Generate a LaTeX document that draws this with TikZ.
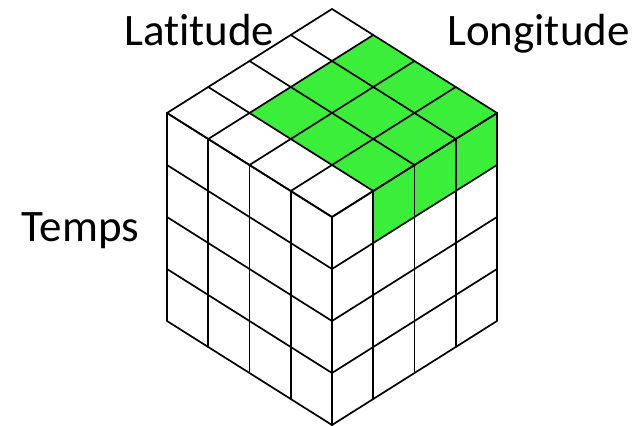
\documentclass[tikz,border=0pt]{standalone}
\usepackage{fontspec}
\setmainfont{Carlito}[Ligatures=NoCommon]
\definecolor{cellgreen}{RGB}{58,238,58}
\begin{document}
\begin{tikzpicture}[
  gridline/.style={line width=1.7pt, line join=round, line cap=round, black},
  greenfill/.style={fill=cellgreen, draw=none},
  axislabel/.style={anchor=base west, inner sep=0pt, font=\fontsize{45}{52}\selectfont}
]
\useasboundingbox (0pt,-426pt) rectangle (641pt,0pt);
\begin{scope}[shift={(332pt,-9pt)}, x={(-41.25pt,-26pt)}, y={(41.25pt,-26pt)}, z={(0pt,-52pt)}]
  % green slab: top face cells and right face top row
  \fill[greenfill] (0,1,0) -- (0,4,0) -- (3,4,0) -- (3,1,0) -- cycle;
  \fill[greenfill] (0,4,0) -- (3,4,0) -- (3,4,1) -- (0,4,1) -- cycle;
  \foreach \k in {0,...,4} {
    % top face
    \draw[gridline] (\k,0,0) -- (\k,4,0);
    \draw[gridline] (0,\k,0) -- (4,\k,0);
    % left face (i = 4)
    \draw[gridline] (4,\k,0) -- (4,\k,4);
    \draw[gridline] (4,0,\k) -- (4,4,\k);
    % right face (j = 4)
    \draw[gridline] (\k,4,0) -- (\k,4,4);
    \draw[gridline] (0,4,\k) -- (4,4,\k);
  }
\end{scope}
\node[axislabel] (lat) at (124pt,-45pt) {Latitude};
\node[axislabel] (lon) at (447pt,-45.5pt) {Longitude};
\node[axislabel] (tps) at (21.5pt,-241.5pt) {Temps};
\end{tikzpicture}
\end{document}
